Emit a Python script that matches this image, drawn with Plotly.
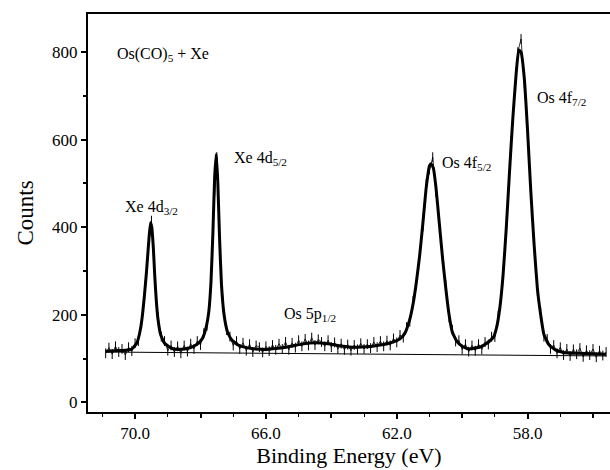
import plotly.graph_objects as go

data_ev = [70.9, 70.8, 70.7, 70.6, 70.5, 70.4, 70.3, 70.2, 70.1, 70.0,
           69.9, 69.8, 69.7, 69.6, 69.5, 69.4, 69.3, 69.2, 69.1, 69.0,
           68.9, 68.8, 68.7, 68.6, 68.5, 68.4, 68.3, 68.2, 68.1, 68.0,
           67.9, 67.8, 67.7, 67.6, 67.5, 67.4, 67.3, 67.2, 67.1, 67.0,
           66.9, 66.8, 66.7, 66.6, 66.5, 66.4, 66.3, 66.2, 66.1, 66.0,
           65.9, 65.8, 65.7, 65.6, 65.5, 65.4, 65.3, 65.2, 65.1, 65.0,
           64.9, 64.8, 64.7, 64.6, 64.5, 64.4, 64.3, 64.2, 64.1, 64.0,
           63.9, 63.8, 63.7, 63.6, 63.5, 63.4, 63.3, 63.2, 63.1, 63.0,
           62.9, 62.8, 62.7, 62.6, 62.5, 62.4, 62.3, 62.2, 62.1, 62.0,
           61.9, 61.8, 61.7, 61.6, 61.5, 61.4, 61.3, 61.2, 61.1, 61.0,
           60.9, 60.8, 60.7, 60.6, 60.5, 60.4, 60.3, 60.2, 60.1, 60.0,
           59.9, 59.8, 59.7, 59.6, 59.5, 59.4, 59.3, 59.2, 59.1, 59.0,
           58.9, 58.8, 58.7, 58.6, 58.5, 58.4, 58.3, 58.2, 58.1, 58.0,
           57.9, 57.8, 57.7, 57.6, 57.5, 57.4, 57.3, 57.2, 57.1, 57.0,
           56.9, 56.8, 56.7, 56.6, 56.5, 56.4, 56.3, 56.2, 56.1, 56.0,
           55.9, 55.8, 55.7, 55.6]
data_counts = [112, 125, 110, 128, 115, 122, 108, 126, 117, 135,
               140, 180, 265, 350, 415, 290, 195, 150, 140, 118,
               130, 115, 128, 112, 130, 116, 134, 122, 140, 131,
               158, 175, 250, 430, 560, 330, 220, 165, 150, 130,
               140, 122, 136, 118, 133, 115, 130, 126, 114, 128,
               117, 131, 120, 134, 122, 138, 120, 136, 125, 142,
               128, 145, 130, 148, 131, 144, 138, 128, 142, 126,
               137, 122, 134, 120, 132, 118, 131, 121, 135, 122,
               133, 124, 138, 126, 140, 128, 141, 130, 146, 137,
               154, 148, 172, 184, 232, 268, 342, 402, 498, 532,
               560, 480, 418, 322, 268, 194, 166, 139, 142, 121,
               133, 116, 130, 118, 133, 121, 138, 132, 150, 149,
               198, 242, 352, 458, 598, 690, 800, 830, 728, 630,
               472, 368, 254, 206, 150, 145, 122, 131, 112, 126,
               108, 122, 106, 121, 110, 124, 104, 119, 108, 122,
               103, 118, 107, 115]

# ---- fitted envelope ----
fit_ev = [70.9, 70.6, 70.3, 70.1, 69.95, 69.87, 69.8, 69.72, 69.65, 69.58,
          69.53, 69.49, 69.44, 69.4, 69.35, 69.3, 69.22, 69.1, 68.9, 68.7,
          68.5, 68.3, 68.1, 67.95, 67.85, 67.75, 67.68, 67.62, 67.57, 67.52,
          67.47, 67.42, 67.36, 67.28, 67.18, 67.05, 66.85, 66.6, 66.3, 66.0,
          65.7, 65.3, 64.9, 64.5, 64.1, 63.7, 63.3, 62.9, 62.6, 62.4,
          62.1, 61.9, 61.75, 61.6, 61.5, 61.4, 61.3, 61.2, 61.1, 61.0,
          60.95, 60.88, 60.8, 60.7, 60.6, 60.5, 60.4, 60.3, 60.15, 60.0,
          59.8, 59.6, 59.4, 59.2, 59.05, 58.95, 58.85, 58.75, 58.65, 58.55,
          58.45, 58.35, 58.27, 58.2, 58.1, 58.0, 57.9, 57.8, 57.7, 57.6,
          57.5, 57.35, 57.15, 56.9, 56.5, 56.0, 55.6]
fit_counts = [117, 118, 119, 122, 135, 155, 185, 240, 300, 370,
              410, 400, 350, 290, 230, 190, 155, 135, 124, 121,
              122, 125, 133, 145, 165, 205, 275, 390, 510, 567,
              500, 380, 270, 200, 162, 143, 131, 125, 122, 121,
              123, 127, 133, 136, 134, 129, 126, 127, 130, 132,
              138, 145, 158, 190, 225, 275, 335, 410, 490, 540,
              545, 535, 490, 410, 330, 260, 200, 160, 138, 128,
              122, 124, 128, 138, 148, 170, 215, 290, 400, 530,
              650, 750, 805, 800, 740, 620, 480, 360, 260, 200,
              155, 132, 120, 114, 112, 111, 110]

# ---- linear background ----
base_ev = [70.9, 55.6]
base_counts = [115, 106]

# ---- peak labels ----
label_text = ["Os(CO)<sub>5</sub> + Xe", "Xe 4d<sub>3/2</sub>", "Xe 4d<sub>5/2</sub>",
              "Os 5p<sub>1/2</sub>", "Os 4f<sub>5/2</sub>", "Os 4f<sub>7/2</sub>"]
label_ev = [70.61, 70.38, 67.03, 65.51, 60.67, 57.77]
label_counts = [794, 444, 558, 200, 546, 695]

# ---- axis ticks ----
x_label_vals = [70, 66, 62, 58]
x_label_text = ["70.0", "66.0", "62.0", "58.0"]
x_unlabeled_vals = [68, 64, 60, 56]
y_label_vals = [0, 200, 400, 600, 800]
y_unlabeled_vals = [100, 300, 500, 700]

X_RANGE = [71.44, 55.48]
Y_RANGE = [-22, 887]
FONT = "Liberation Serif, Times New Roman, serif"

fig = go.Figure()
fig.add_trace(go.Scatter(x=base_ev, y=base_counts, mode="lines", xaxis="x2", yaxis="y2",
                         line=dict(color="black", width=1), hoverinfo="skip"))
fig.add_trace(go.Scatter(x=data_ev, y=data_counts, mode="lines+markers",
                         line=dict(color="black", width=0.8),
                         marker=dict(symbol="line-ns", size=7,
                                     line=dict(color="black", width=1))))
fig.add_trace(go.Scatter(x=fit_ev, y=fit_counts, mode="lines",
                         line=dict(color="black", width=3, shape="spline", smoothing=0.4)))

for t, xv, yv in zip(label_text, label_ev, label_counts):
    fig.add_annotation(x=xv, y=yv, text=t, showarrow=False, xanchor="left",
                       yanchor="middle", font=dict(family=FONT, size=16, color="black"))

fig.update_layout(
    width=610, height=470,
    margin=dict(l=88, r=0, t=14, b=58),
    paper_bgcolor="white", plot_bgcolor="white",
    showlegend=False,
    font=dict(family=FONT, color="black"),
    xaxis=dict(range=X_RANGE, showgrid=False, zeroline=False,
               showline=True, linewidth=2, linecolor="black", mirror=True,
               tickmode="array", tickvals=x_label_vals, ticktext=x_label_text,
               ticks="outside", ticklen=5, tickwidth=2, tickcolor="black",
               minor=dict(dtick=1, ticks="outside", ticklen=3, tickwidth=1, tickcolor="black"),
               tickfont=dict(family=FONT, size=17),
               title=dict(text="Binding Energy (eV)", font=dict(family=FONT, size=22), standoff=2)),
    xaxis2=dict(range=X_RANGE, overlaying="x", anchor="y", side="bottom",
                showgrid=False, zeroline=False, showline=False,
                tickmode="array", tickvals=x_unlabeled_vals, showticklabels=False,
                ticks="outside", ticklen=5, tickwidth=2, tickcolor="black"),
    yaxis=dict(range=Y_RANGE, showgrid=False, zeroline=False,
               showline=True, linewidth=2, linecolor="black",
               tickmode="array", tickvals=y_label_vals,
               ticks="outside", ticklen=5, tickwidth=2, tickcolor="black",
               tickfont=dict(family=FONT, size=17),
               title=dict(text="Counts", font=dict(family=FONT, size=23), standoff=12)),
    yaxis2=dict(range=Y_RANGE, overlaying="y", anchor="x", side="left",
                showgrid=False, zeroline=False, showline=False,
                tickmode="array", tickvals=y_unlabeled_vals, showticklabels=False,
                ticks="outside", ticklen=4, tickwidth=1.5, tickcolor="black"),
)

fig.write_html("out.html")
